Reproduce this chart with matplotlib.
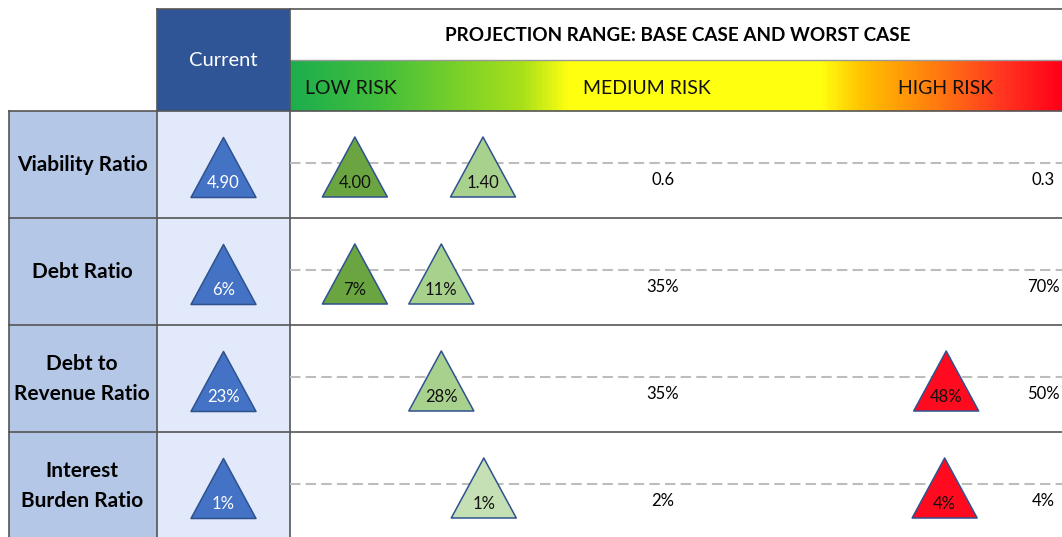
import numpy as np
import matplotlib
matplotlib.use("Agg")
import matplotlib.pyplot as plt
from matplotlib.patches import Rectangle
from matplotlib.path import Path
from matplotlib.colors import LinearSegmentedColormap

plt.rcParams['font.family'] = ['Lato', 'DejaVu Sans']

# data
metrics = ["Viability Ratio", "Debt Ratio", "Debt to\nRevenue Ratio", "Interest\nBurden Ratio"]
current_labels = ["4.90", "6%", "23%", "1%"]

# projected markers: row index, label, position on risk scale (0 = low, 100 = high)
proj_row = [0, 0, 1, 1, 2, 2, 3, 3]
proj_label = ["4.00", "1.40", "7%", "11%", "28%", "48%", "1%", "4%"]
proj_score = [8.4, 25.0, 8.4, 19.6, 19.6, 85.0, 25.1, 84.8]
proj_kind = ["dark", "light", "dark", "light", "light", "red", "pale", "red"]

# thresholds written on each row
medium_threshold = ["0.6", "35%", "35%", "2%"]
high_threshold = ["0.3", "70%", "50%", "4%"]
medium_score = 48.3
high_score = 97.6

zones = ["LOW RISK", "MEDIUM RISK", "HIGH RISK"]
zone_score = [2.0, 38.0, 78.7]

kind_colors = {"dark": "#6AA541", "light": "#A9D18E", "pale": "#C5E0B4", "red": "#FF0A1E"}

W, H = 1062, 537
fig = plt.figure(figsize=(W / 100, H / 100), dpi=100)

# canvas in pixel units for the table frame
ax = fig.add_axes([0, 0, 1, 1])
ax.set_xlim(0, W)
ax.set_ylim(H, 0)
ax.axis("off")

x_left, x_cur, x_proj, x_right = 9, 157, 290, W
y_top, y_bar, y_rows = 9, 60, 111
row_h = 107

# header cells
ax.add_patch(Rectangle((x_cur, y_top), x_proj - x_cur, y_rows - y_top, fc="#2F5597", ec="none"))
ax.text((x_cur + x_proj) / 2, (y_top + y_rows) / 2, "Current", color="white",
        fontsize=14.5, ha="center", va="center")
ax.text(678, (y_top + y_bar) / 2 + 1, "PROJECTION RANGE: BASE CASE AND WORST CASE",
        fontsize=13.6, fontweight="bold", ha="center", va="center")

# gradient band
cmap = LinearSegmentedColormap.from_list("risk", [
    (0.0, "#1DAE4D"), (0.12, "#45BF3B"), (0.30, "#A8E01A"), (0.36, "#FFFF10"),
    (0.69, "#FFFF10"), (0.74, "#FFC400"), (0.84, "#FF7A10"), (0.92, "#FF3A20"), (1.0, "#FF0018")])
ax.imshow(np.linspace(0, 1, 400)[None, :], cmap=cmap, aspect="auto",
          extent=[x_proj, x_right, y_rows, y_bar], zorder=1)

# body backgrounds
ax.add_patch(Rectangle((x_left, y_rows), x_cur - x_left, H - y_rows, fc="#B4C7E7", ec="none"))
ax.add_patch(Rectangle((x_cur, y_rows), x_proj - x_cur, H - y_rows, fc="#E2E9FA", ec="none"))

# grid lines
lc = "#555555"
ax.plot([x_cur, x_right], [y_top, y_top], color=lc, lw=1.2, zorder=3)
ax.plot([x_proj, x_right], [y_bar, y_bar], color="#999999", lw=1.0, zorder=3)
for k in range(4):
    y = y_rows + k * row_h
    ax.plot([x_left, x_right], [y, y], color=lc, lw=1.2, zorder=3)
ax.plot([x_left, x_left], [y_rows, H], color=lc, lw=1.2, zorder=3)
ax.plot([x_cur, x_cur], [y_top, H], color=lc, lw=1.2, zorder=3)
ax.plot([x_proj, x_proj], [y_top, H], color=lc, lw=1.2, zorder=3)

# row labels
for k, name in enumerate(metrics):
    ax.text((x_left + x_cur) / 2 - 1, y_rows + k * row_h + 54, name, fontsize=15, fontweight="bold",
            ha="center", va="center", linespacing=1.6)

# triangle marker, origin on the dashed line
tri = Path([(0, 26), (-32.5, -34), (32.5, -34), (0, 26)],
           [Path.MOVETO, Path.LINETO, Path.LINETO, Path.CLOSEPOLY])
msize = (68 * 0.72) ** 2
line_off = 52 / row_h
lab_off = 72 / row_h
txt_off = 69 / row_h
ymax = 3 + (H - y_rows - 3 * row_h) / row_h

# current column
ax_c = fig.add_axes([x_cur / W, 0, (x_proj - x_cur) / W, (H - y_rows) / H])
ax_c.set_xlim(0, 1)
ax_c.set_ylim(ymax, 0)
ax_c.axis("off")
ax_c.patch.set_alpha(0)
rows = np.arange(len(metrics))
ax_c.scatter([0.5] * len(rows), rows + line_off, marker=tri, s=msize,
             c="#4472C4", edgecolors="#2F528F", linewidths=1.1, zorder=3)
for k, lab in enumerate(current_labels):
    ax_c.text(0.5, k + lab_off, lab, color="white", fontsize=12, ha="center", va="center", zorder=4)

# projection panel
ax_r = fig.add_axes([x_proj / W, 0, (x_right - x_proj) / W, (H - y_rows) / H])
ax_r.set_xlim(0, 100)
ax_r.set_ylim(ymax, 0)
ax_r.axis("off")
ax_r.patch.set_alpha(0)
for k in rows:
    ax_r.plot([0, 100], [k + line_off] * 2, color="#BDBDBD", lw=1.5, dashes=(5, 2.5), zorder=1)
    ax_r.text(medium_score, k + txt_off, medium_threshold[k], fontsize=12, ha="center", va="center")
    ax_r.text(high_score, k + txt_off, high_threshold[k], fontsize=12, ha="center", va="center")

ax_r.scatter(proj_score, np.array(proj_row) + line_off, marker=tri, s=msize,
             c=[kind_colors[k] for k in proj_kind], edgecolors="#2F528F", linewidths=1.1, zorder=3)
for sc, r, lab in zip(proj_score, proj_row, proj_label):
    ax_r.text(sc, r + lab_off, lab, color="#111111", fontsize=12, ha="center", va="center", zorder=4)

# zone names on the gradient band
for sc, z in zip(zone_score, zones):
    ax.text(x_proj + sc / 100 * (x_right - x_proj), (y_bar + y_rows) / 2 + 3, z,
            fontsize=14, ha="left", va="center", color="#111111", zorder=4)

fig.savefig("out.png", dpi=100)
